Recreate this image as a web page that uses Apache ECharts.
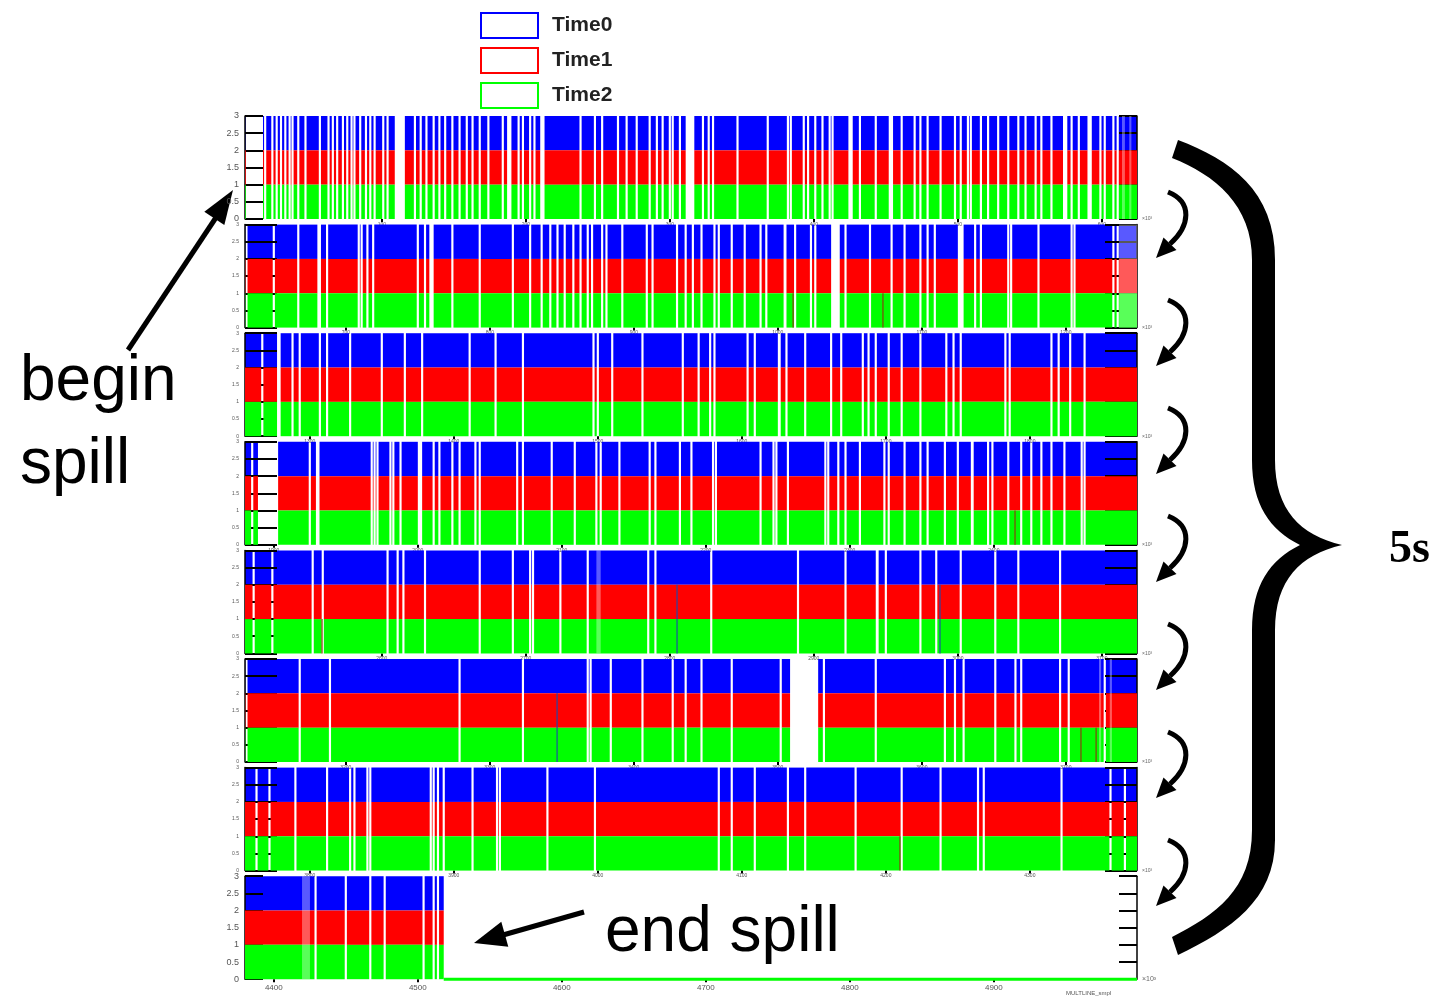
<!DOCTYPE html>
<html><head><meta charset="utf-8">
<script src="https://cdn.jsdelivr.net/npm/echarts@6/dist/echarts.min.js"></script>
<style>html,body{margin:0;padding:0;background:#fff}#c{width:1435px;height:998px}</style>
</head><body><div id="c"></div>
<script>
// ---------------- DATA ----------------
const seriesNames = ['Time0', 'Time1', 'Time2'];
// absolute start (x10^3) of each of the 8 time windows, and where data ends inside each window
const panelBases = [5, 630, 1255, 1880, 2505, 3130, 3755, 4380];
const panelEnds = [619.4, 619.4, 619.4, 619.4, 619.4, 619.4, 619.4, 138];

// empty samples (narrow gaps, centre offsets inside each window)
const gapsP1 = [14,19,22,25,28,31,33,37,42,52,58,61,64,68,71,74,76,80,84,87,90,96,99,118,122,126,131,135,139,144,149,154,158,163,169,179,190,193,198,201,233,243,248,259,265,272,281,286,290,295,297,302,318,322,325,342,363,377,379,388,391,396,401,406,408,427,438,456,465,469,474,483,493,497,502,504,511,516,523,530,537,542,549,553,560,574,579,594,597,603,606];
const gapsP2 = [1,20,37,51,52,57,79,81,85,89,120,125,144,163,186,198,206,212,217,222,228,233,238,241,248,251,262,279,283,300,306,311,317,326,329,338,347,358,362,382,393,396,417,434,449,458,469,474,479,507,511,530,532,551,574,576,603,606];
const gapsP3 = [12,23,24,33,38,52,57,73,95,111,123,156,174,193,242,245,255,276,304,315,323,326,349,354,376,389,407,414,429,433,438,447,456,469,487,492,497,528,531,560,565,573,583];
const gapsP4 = [5,45,50,51,88,90,92,101,103,108,131,135,144,149,160,163,189,193,213,229,244,247,260,281,285,302,310,325,327,358,367,369,377,403,405,412,417,427,444,447,458,469,474,486,495,516,519,530,539,546,553,560,569,581,583];
const gapsP5 = [6,19,47,54,99,106,110,125,163,186,198,200,219,238,280,285,384,417,445,469,480,497,521,537,566];
const gapsP6 = [1,38,59,149,193,238,240,254,276,297,306,317,338,372,402,438,486,493,499,521,535,539,566,572,597];
const gapsP7 = [8,17,35,57,73,76,85,87,129,131,134,138,158,175,177,210,243,329,338,354,377,389,424,456,483,509,513,567,601,611];
const gapsP8 = [49,70,87,97,124,131,134];

// wider empty stretches [from, to]
const blocksP1 = [[0.5,12.5],[104,111],[182,185],[205,208],[306,312],[419,422],[447,450],[568,571],[585,588]];
const blocksP2 = [[128,131],[374,376],[407,413],[495,499]];
const blocksP3 = [[370,372]];
const blocksP4 = [[9,23],[120,123],[504,506]];
const blocksP5 = [[323,324.5],[438,440]];
const blocksP6 = [[378.5,398]];
const blocksP7 = [];
const blocksP8 = [];

// partly filled (pale) stretches [from, to]
const paleP1 = [[609,611],[614,615.5]];
const paleP2 = [[607,619.4]];
const paleP3 = [];
const paleP4 = [];
const paleP5 = [[244,247]];
const paleP6 = [[593,594.5],[600.5,602]];
const paleP7 = [];
const paleP8 = [[39.6,45.1]];

// single dark samples: inside Time2 band (brownish) and through Time1+Time2 (bluish)
const darkGreenBandP = [[], [380.6, 443], [], [534.7], [53.5], [580.5, 591], [454.8], []];
const darkLowerBandsP = [[], [], [], [], [300, 482.6], [216.7], [], []];

// ---------------- BUILD ----------------
const gaps = [gapsP1,gapsP2,gapsP3,gapsP4,gapsP5,gapsP6,gapsP7,gapsP8];
const blocks = [blocksP1,blocksP2,blocksP3,blocksP4,blocksP5,blocksP6,blocksP7,blocksP8];
const pales = [paleP1,paleP2,paleP3,paleP4,paleP5,paleP6,paleP7,paleP8];
const GAP_W = 1.5, X_MAX = 619.4;
const colors = ['#0000ff', '#ff0000', '#00ff00'];
const bands = [[2, 3], [1, 2], [0, 1]];
const FONT = 'Liberation Sans, Arial, sans-serif';

function segmentsFor(end, thin, blk) {
  const iv = thin.map(c => [c - GAP_W / 2, c + GAP_W / 2]).concat(blk.map(b => [b[0], b[1]]))
    .sort((a, b) => a[0] - b[0]);
  const segs = []; let cur = 0;
  for (const [a, b] of iv) {
    if (a > cur) segs.push([cur, Math.min(a, end)]);
    cur = Math.max(cur, b);
    if (cur >= end) break;
  }
  if (cur < end) segs.push([cur, end]);
  return segs.filter(s => s[1] > s[0]);
}
function rectItem(params, api) {
  const a = api.coord([api.value(0), api.value(3)]);
  const b = api.coord([api.value(1), api.value(2)]);
  return { type: 'rect', shape: { x: a[0], y: a[1], width: b[0] - a[0], height: b[1] - a[1] }, style: api.style() };
}

const grids = [], xAxes = [], yAxes = [], series = [];
for (let i = 0; i < 8; i++) {
  const big = (i === 0 || i === 7);
  grids.push({ left: 245, width: 892, top: 116 + i * 108.6, height: 103 });
  const base = panelBases[i];
  const xt = [];
  for (let m = Math.ceil(base / 100) * 100; m <= base + X_MAX + 0.01; m += 100) xt.push(+(m - base).toFixed(2));
  xAxes.push({
    gridIndex: i, type: 'value', min: 0, max: X_MAX,
    axisLine: { show: false }, splitLine: { show: false },
    axisTick: { show: true, customValues: xt, length: 3, lineStyle: { color: '#000', width: 2 } },
    axisLabel: { customValues: xt, formatter: v => String(Math.round(v + base)), fontSize: i === 7 ? 8 : 5, color: '#555', margin: i === 7 ? 5 : 3, fontFamily: FONT },
    name: '×10³', nameLocation: 'end', nameGap: 5, nameTextStyle: { fontSize: i === 7 ? 7 : 5, color: '#666', fontFamily: FONT }
  });
  const tickLen = big ? 18 : 32;
  ['left', 'right'].forEach(pos => {
    yAxes.push({
      gridIndex: i, type: 'value', min: 0, max: 3, interval: 0.5, position: pos, z: 2,
      axisLine: { show: true, lineStyle: { color: '#000', width: 1.5 } },
      axisTick: { show: true, inside: true, length: tickLen, lineStyle: { color: '#000', width: 2 } },
      axisLabel: { show: pos === 'left', fontSize: big ? 9 : 5, color: '#555', margin: 6, fontFamily: FONT },
      splitLine: { show: false }
    });
  });
  const segs = segmentsFor(panelEnds[i], gaps[i], blocks[i]);
  for (let k = 0; k < 3; k++) {
    series.push({
      type: 'custom', name: seriesNames[k], xAxisIndex: i, yAxisIndex: 2 * i, z: k === 0 ? 1 : 3,
      renderItem: rectItem, encode: { x: [0, 1], y: [2, 3] }, itemStyle: { color: colors[k] }, silent: true,
      data: segs.map(s => [s[0], s[1], bands[k][0], bands[k][1]])
    });
  }
  series.push({
    type: 'custom', name: 'pale', xAxisIndex: i, yAxisIndex: 2 * i, z: 4, renderItem: rectItem,
    encode: { x: [0, 1], y: [2, 3] }, itemStyle: { color: 'rgba(255,255,255,0.35)' }, silent: true,
    data: pales[i].map(p => [p[0], p[1], 0, 3])
  });
  series.push({
    type: 'custom', name: 'dark1', xAxisIndex: i, yAxisIndex: 2 * i, z: 4, renderItem: rectItem,
    encode: { x: [0, 1], y: [2, 3] }, itemStyle: { color: '#8a3a10' }, silent: true,
    data: darkGreenBandP[i].map(x => [x - 0.4, x + 0.4, 0, 1])
  });
  series.push({
    type: 'custom', name: 'dark2', xAxisIndex: i, yAxisIndex: 2 * i, z: 4, renderItem: rectItem,
    encode: { x: [0, 1], y: [2, 3] }, itemStyle: { color: '#1f4aa8' }, silent: true,
    data: darkLowerBandsP[i].map(x => [x - 0.4, x + 0.4, 0, 2])
  });
}
// zero line of Time2 after the end of the spill
series.push({
  type: 'line', name: 'Time2', xAxisIndex: 7, yAxisIndex: 14, z: 3, symbol: 'none', clip: false, silent: true,
  lineStyle: { color: '#00ff00', width: 3 }, data: [[panelEnds[7], 0], [X_MAX, 0]]
});

// ---------------- ANNOTATIONS ----------------
function cubic(p0, c1, c2, p3, n) {
  const pts = [];
  for (let t = 1; t <= n; t++) {
    const u = t / n, v = 1 - u;
    pts.push([v*v*v*p0[0] + 3*v*v*u*c1[0] + 3*v*u*u*c2[0] + u*u*u*p3[0],
              v*v*v*p0[1] + 3*v*v*u*c1[1] + 3*v*u*u*c2[1] + u*u*u*p3[1]]);
  }
  return pts;
}
let brace = [[1178, 140]];
brace.push(...cubic([1178,140],[1230,160],[1275,190],[1275,260],16));
brace.push([1275,460]);
brace.push(...cubic([1275,460],[1275,510],[1300,535],[1342,545],16));
brace.push(...cubic([1342,545],[1300,555],[1275,580],[1275,630],16));
brace.push([1275,840]);
brace.push(...cubic([1275,840],[1275,900],[1230,930],[1178,955],16));
brace.push([1172,937]);
brace.push(...cubic([1172,937],[1215,915],[1252,890],[1252,830],16));
brace.push([1252,630]);
brace.push(...cubic([1252,630],[1252,585],[1270,560],[1300,545],16));
brace.push(...cubic([1300,545],[1270,530],[1252,505],[1252,460],16));
brace.push([1252,260]);
brace.push(...cubic([1252,260],[1252,205],[1215,175],[1172,158],16));

const graphics = [
  { type: 'text', x: 20, y: 382, style: { text: 'begin', fontSize: 64, fontFamily: FONT, fill: '#000', verticalAlign: 'middle', textVerticalAlign: 'middle' } },
  { type: 'text', x: 20, y: 465, style: { text: 'spill', fontSize: 64, fontFamily: FONT, fill: '#000', verticalAlign: 'middle', textVerticalAlign: 'middle' } },
  { type: 'text', x: 605, y: 933, style: { text: 'end spill', fontSize: 64, fontFamily: FONT, fill: '#000', verticalAlign: 'middle', textVerticalAlign: 'middle' } },
  { type: 'text', x: 1389, y: 550, style: { text: '5s', fontSize: 46, fontWeight: 'bold', fontFamily: 'Liberation Serif, serif', fill: '#000', verticalAlign: 'middle', textVerticalAlign: 'middle' } },
  { type: 'text', x: 1066, y: 993, style: { text: 'MULTLINE_smpl', fontSize: 6, fontFamily: FONT, fill: '#555', verticalAlign: 'middle', textVerticalAlign: 'middle' } },
  { type: 'line', shape: { x1: 128, y1: 350, x2: 217, y2: 216 }, style: { stroke: '#000', lineWidth: 5 } },
  { type: 'polygon', shape: { points: [[233,190],[224.3,225],[204.3,211.8]] }, style: { fill: '#000' } },
  { type: 'line', shape: { x1: 584, y1: 912, x2: 503, y2: 935 }, style: { stroke: '#000', lineWidth: 5 } },
  { type: 'polygon', shape: { points: [[474,943],[508.3,946.8],[501.3,921.8]] }, style: { fill: '#000' } },
  { type: 'polygon', shape: { points: brace }, style: { fill: '#000' } }
];
[224, 332, 440, 548, 656, 764, 872].forEach(c => {
  graphics.push({ type: 'bezierCurve', shape: { x1: 1168, y1: c - 32, cpx1: 1193, cpy1: c - 22, cpx2: 1190, cpy2: c + 2, x2: 1170, y2: c + 20 }, style: { stroke: '#000', lineWidth: 5, fill: null } });
  graphics.push({ type: 'polygon', shape: { points: [[1156, c + 34], [1176.5, c + 26], [1163.5, c + 13.5]] }, style: { fill: '#000' } });
});

const chart = echarts.init(document.getElementById('c'));
chart.setOption({
  animation: false,
  backgroundColor: '#fff',
  legend: {
    data: seriesNames.map((n, k) => ({ name: n, itemStyle: { color: '#fff', borderColor: colors[k], borderWidth: 2 } })),
    orient: 'vertical', left: 480, top: 12, padding: 0, itemWidth: 57, itemHeight: 25, itemGap: 8, icon: 'rect',
    textStyle: { fontSize: 21, lineHeight: 25, fontWeight: 'bold', fontFamily: FONT, color: '#222', padding: [0, 0, 0, 9] }
  },
  grid: grids, xAxis: xAxes, yAxis: yAxes, series: series,
  graphic: graphics
});
</script></body></html>
